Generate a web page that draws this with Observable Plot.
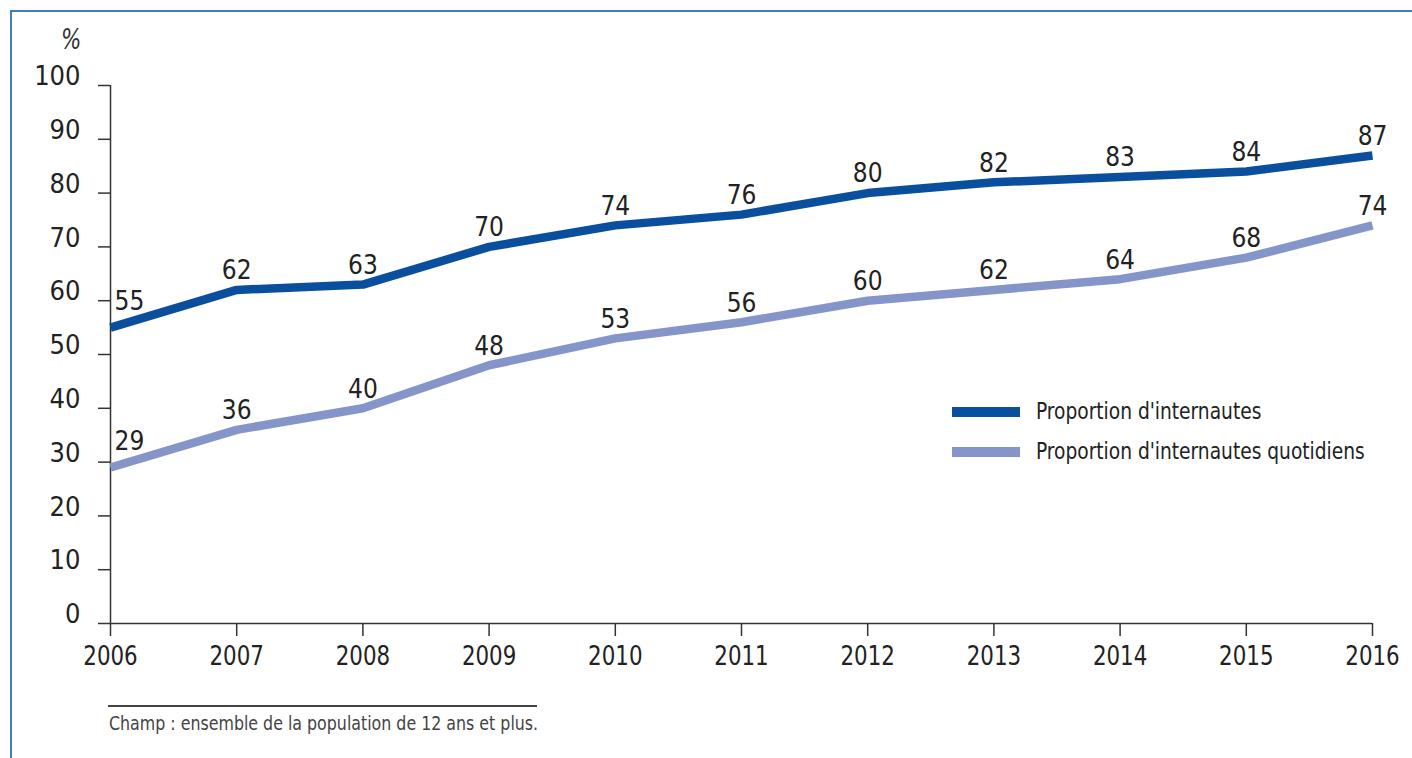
<!DOCTYPE html>
<html>
<head>
<meta charset="utf-8">
<script src="https://cdn.jsdelivr.net/npm/d3@7"></script>
<script src="https://cdn.jsdelivr.net/npm/@observablehq/plot@0.6"></script>
<style>
  html, body { margin: 0; padding: 0; background: #fff; }
  body { width: 1412px; height: 758px; overflow: hidden; position: relative;
         font-family: "DejaVu Sans", sans-serif; font-stretch: condensed; color: #222; }
  #frame { position: absolute; left: 10px; top: 10px; width: 1500px; height: 900px;
           border: 2px solid #3f7cc4; box-sizing: border-box; pointer-events: none; }
  #chart { position: absolute; left: 0; top: 0; }
  #pct { position: absolute; left: 61px; top: 23px; font-size: 28px; font-style: italic; color: #333;
         transform: scaleX(0.85); transform-origin: left center; white-space: nowrap; }
  .leg { position: absolute; left: 952px; width: 68px; height: 10px; }
  .legt { position: absolute; left: 1036px; font-size: 23px; line-height: 28px; color: #222;
          white-space: nowrap; transform: scaleX(0.9); transform-origin: left center; }
  #capline { position: absolute; left: 108px; top: 705px; width: 429px; height: 0; border-top: 2px solid #444; }
  #caption { position: absolute; left: 109px; top: 711px; font-size: 20px; line-height: 24px; color: #444;
             white-space: nowrap; transform: scaleX(0.88); transform-origin: left center; }
</style>
</head>
<body>
<div id="frame"></div>
<div id="chart"></div>
<div id="pct">%</div>
<div class="leg" style="top:407px;background:#0a4f9e"></div>
<div class="legt" style="top:397px">Proportion d'internautes</div>
<div class="leg" style="top:447px;background:#8595c9"></div>
<div class="legt" style="top:437px">Proportion d'internautes quotidiens</div>
<div id="capline"></div>
<div id="caption">Champ : ensemble de la population de 12 ans et plus.</div>
<script>
const years = [2006, 2007, 2008, 2009, 2010, 2011, 2012, 2013, 2014, 2015, 2016];
const internautes = [55, 62, 63, 70, 74, 76, 80, 82, 83, 84, 87];
const quotidiens = [29, 36, 40, 48, 53, 56, 60, 62, 64, 68, 74];
const yTicks = [0, 10, 20, 30, 40, 50, 60, 70, 80, 90, 100];
const seriesNames = ["Proportion d'internautes", "Proportion d'internautes quotidiens"];
const seriesColors = ["#0a4f9e", "#8595c9"];

const data = [];
years.forEach((y, i) => {
  data.push({year: y, value: internautes[i], series: seriesNames[0]});
  data.push({year: y, value: quotidiens[i], series: seriesNames[1]});
});
const first = data.filter(d => d.year === years[0]);
const rest = data.filter(d => d.year !== years[0]);

const chart = Plot.plot({
  width: 1412,
  height: 758,
  marginLeft: 110,
  marginRight: 40,
  marginTop: 85,
  marginBottom: 135,
  style: {
    fontFamily: '"DejaVu Sans", sans-serif',
    fontStretch: "condensed",
    fontSize: "27px",
    color: "#222",
    background: "transparent",
    overflow: "visible"
  },
  x: {domain: [2006, 2016]},
  y: {domain: [0, 100]},
  color: {domain: seriesNames, range: seriesColors},
  marks: [
    Plot.axisY({ticks: yTicks, tickSize: 12, tickFormat: () => "", label: null, stroke: "#333", strokeWidth: 1.5}),
    Plot.axisY({ticks: yTicks, tickSize: 0, tickPadding: 30, dy: -9, label: null, fontSize: 27, fill: "#222", ariaLabel: "ylabels"}),
    Plot.axisX({ticks: years, tickSize: 13, tickPadding: 9, tickFormat: "d", label: null, fontSize: 27, stroke: "#333", strokeWidth: 1.5, fill: "#222"}),
    Plot.ruleY([0], {stroke: "#333", strokeWidth: 1.5}),
    Plot.ruleX([2006], {stroke: "#333", strokeWidth: 1.5}),
    Plot.line(data, {x: "year", y: "value", z: "series", stroke: "series", strokeWidth: 8.5, strokeLinejoin: "round", strokeLinecap: "butt"}),
    Plot.text(first, {x: "year", y: "value", text: d => String(d.value), textAnchor: "start", dx: 4, dy: -26, fontSize: 26, fill: "#222", ariaLabel: "vlabels"}),
    Plot.text(rest, {x: "year", y: "value", text: d => String(d.value), dy: -19, fontSize: 26, fill: "#222", ariaLabel: "vlabels"})
  ]
});
document.getElementById("chart").appendChild(chart);

// narrow the glyphs to mimic a condensed typeface
function narrow(sel, k) {
  chart.querySelectorAll(sel).forEach(t => {
    const len = t.getComputedTextLength();
    if (len > 0) {
      t.setAttribute("textLength", (len * k).toFixed(2));
      t.setAttribute("lengthAdjust", "spacingAndGlyphs");
    }
  });
}
narrow('g[aria-label="ylabels"] text', 0.82);
narrow('g[aria-label="x-axis tick label"] text', 0.88);
narrow('g[aria-label="vlabels"] text', 0.82);
</script>
</body>
</html>
